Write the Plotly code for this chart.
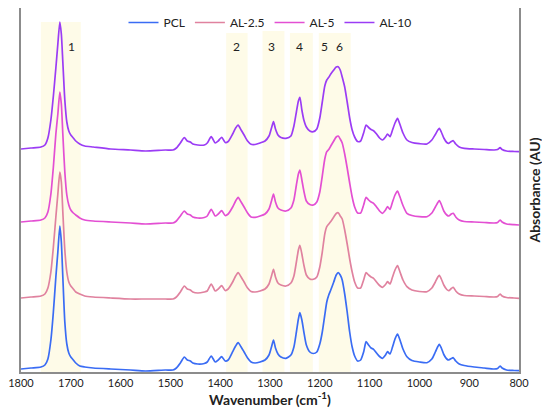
import plotly.graph_objects as go

# Wavenumber grid (cm-1)
wavenumber = [1800, 1780, 1760, 1752, 1746, 1740, 1735, 1730, 1726, 1722, 1719, 1716, 1712, 1708, 1704,
              1700, 1695, 1690, 1682, 1672, 1655, 1620, 1580, 1550, 1510, 1495, 1488, 1480, 1472, 1466,
              1460, 1455, 1445, 1432, 1426, 1418, 1410, 1404, 1397, 1390, 1384, 1375, 1369, 1364, 1358,
              1352, 1345, 1338, 1330, 1320, 1310, 1302, 1297, 1293, 1289, 1284, 1278, 1268, 1258, 1252,
              1247, 1243, 1240, 1236, 1232, 1227, 1220, 1213, 1206, 1200, 1195, 1190, 1186, 1182, 1178,
              1172, 1167, 1163, 1159, 1155, 1150, 1145, 1140, 1135, 1130, 1124, 1118, 1112, 1107, 1102,
              1097, 1092, 1086, 1080, 1074, 1068, 1064, 1059, 1054, 1049, 1044, 1039, 1033, 1025, 1015,
              1000, 985, 975, 968, 963, 960, 956, 951, 945, 941, 936, 932, 927, 920, 910,
              890, 870, 850, 843, 838, 834, 825, 810, 800]

pcl = [3, 4, 5, 7, 13, 32, 60, 95, 120, 146, 130, 95, 50, 28, 19,
       15, 12, 9, 6, 5, 4, 3, 2, 1, 2, 2, 4, 9, 15, 12,
       11, 9, 8, 8.5, 10, 16, 10, 12, 15.3, 11, 12, 20.3, 26, 29.3, 25,
       20, 14, 10, 9, 10, 12, 17, 25, 32, 24, 18, 15, 13.7, 17, 25,
       40, 53, 59.3, 52, 40, 27, 20, 18.5, 20, 28, 40, 57, 70, 77, 82,
       90, 97, 99.3, 97, 92, 78, 60, 40, 25, 16, 11, 12, 20, 30.3, 27,
       24, 22.7, 19, 15.5, 13.7, 17, 20.3, 18, 25, 33, 38, 32, 23, 15.3, 11.5,
       10, 9.3, 13, 20, 25.5, 27.7, 24, 17.5, 13, 12, 13.5, 14.3, 11, 8, 6.5,
       5, 4, 3, 3.5, 6, 4, 2, 1.5, 1.3]

al_2_5 = [74, 75, 76, 78, 84, 100, 125, 155, 178, 200, 190, 160, 122, 100, 90,
          86, 83, 80, 78, 76, 75, 74, 73, 73, 73, 73, 75, 80, 86, 83,
          82, 80, 79, 80, 81, 88, 81, 83, 86.3, 81.5, 83, 90, 96, 99.3, 95,
          90, 84, 80.5, 80, 81, 83, 88, 96, 102.7, 95, 89, 87, 86, 89, 96,
          110, 122, 126.7, 118, 107, 97, 93, 92.7, 95, 105, 120, 138, 145.3, 148, 150.5,
          155, 158.5, 159.3, 156, 153, 142, 128, 113, 100, 90, 84, 84, 92, 99.3, 97,
          95, 93.7, 90, 86.5, 84.7, 87.5, 90.3, 88, 95, 102, 106.3, 100, 92, 85.3, 82,
          80.5, 80.3, 84, 90, 95, 96.7, 93, 87, 82.5, 81.3, 83.5, 84.7, 81, 78, 76.5,
          76, 75.5, 75, 75.5, 78, 76, 74.5, 74, 73.7]

al_5 = [150, 151, 152, 154, 160, 178, 205, 238, 258, 280, 268, 238, 200, 177, 167,
        162, 159, 157, 154, 152, 151, 150, 149, 148, 149, 149, 151, 156, 161, 158,
        157, 155, 154, 154.5, 156, 162.7, 156, 158, 161.3, 156.5, 158, 165, 171, 174.7, 170,
        165, 159, 155, 154.7, 156, 158, 163, 171, 178, 170, 164, 162, 161, 164, 172,
        187, 198, 202, 192, 181, 171, 167.5, 167, 170, 180, 196, 213, 220.3, 222.5, 226,
        231, 235, 236, 233, 229, 218, 204, 189, 175, 165, 159, 159, 167, 174.7, 172,
        170, 168.7, 165, 161, 158.7, 162, 165.3, 162.7, 170, 177, 181, 175, 166.5, 158.7, 156.5,
        155.3, 155.3, 159, 165, 169.5, 171.3, 167.5, 161, 157, 156, 158, 158.7, 155, 152, 150.5,
        150, 149.5, 149, 149.5, 152, 150, 148, 147.3, 147]

al_10 = [223, 224, 225, 227, 234, 252, 276, 304, 328, 350, 338, 310, 272, 250, 241,
         237, 234, 231, 228, 226, 225, 223, 222, 221, 222, 222, 224, 229, 234.5, 231,
         230, 228, 227, 227, 229, 235.3, 229, 231, 234.7, 229.5, 230.5, 238, 244, 247, 242,
         237, 231, 227.7, 227.5, 229, 231, 236, 244, 250.3, 243, 237, 234.5, 233.7, 236, 246,
         260, 271, 274.7, 262, 252, 245, 241, 240.3, 243, 254, 270, 286, 292, 294.7, 298,
         302, 305, 305.3, 302, 295, 285, 270, 254, 242, 235, 230.5, 231, 239, 247, 244.5,
         242.5, 241.3, 238, 234, 232, 235, 238, 235.3, 242, 249, 253.7, 247.5, 239, 232, 229.5,
         228.3, 228, 232, 237.5, 242, 243.7, 240, 234, 229.5, 228.7, 230.5, 231.3, 228, 225, 223.7,
         223, 222.5, 222, 222.5, 224.3, 222.5, 221, 220.5, 220.3]

series_names = ["PCL", "AL-2.5", "AL-5", "AL-10"]
series_values = [pcl, al_2_5, al_5, al_10]
series_colors = ["#3a6cf4", "#e0829f", "#e34fd3", "#9b3cf5"]

# Highlighted bands (cm-1) and their labels
band_start = [1760, 1388, 1315, 1260, 1202]
band_end = [1680, 1345, 1271, 1214, 1138]
band_top = [350, 339, 341, 339, 339]
label_text = ["1", "2", "3", "4", "5", "6"]
label_pos = [1699, 1368, 1298, 1241, 1190, 1160]
label_y = 326

FONT = "Lato"

fig = go.Figure()

for xs, xe, yt in zip(band_start, band_end, band_top):
    fig.add_shape(type="rect", xref="x", yref="y", x0=xs, x1=xe, y0=0, y1=yt,
                  fillcolor="#fefbe8", line=dict(width=0), layer="below")

for name, vals, col in zip(series_names, series_values, series_colors):
    fig.add_trace(go.Scatter(x=wavenumber, y=vals, mode="lines", name=name,
                             line=dict(color=col, width=1.7, shape="spline", smoothing=0.6)))

for t, p in zip(label_text, label_pos):
    fig.add_annotation(x=p, y=label_y, xref="x", yref="y", text=t, showarrow=False,
                       font=dict(size=12, color="#222222", family=FONT))

fig.update_layout(
    width=542, height=409,
    margin=dict(l=13, r=31, t=0, b=45, autoexpand=False),
    paper_bgcolor="white", plot_bgcolor="white",
    font=dict(family=FONT, color="#222222"),
    showlegend=True,
    legend=dict(orientation="h", x=0.5, xanchor="center", y=1.0, yanchor="top",
                bgcolor="rgba(0,0,0,0)", font=dict(size=12, color="#222222", family=FONT),
                itemwidth=30, tracegroupgap=0),
    xaxis=dict(range=[1800, 800], tickmode="array",
               tickvals=[1800, 1700, 1600, 1500, 1400, 1300, 1200, 1100, 1000, 900, 800],
               ticks="", showgrid=False, zeroline=False, ticklabeloverflow="allow",
               showline=True, linecolor="#8c8c8c", linewidth=1.5, mirror=True,
               tickfont=dict(size=11, color="#222222"),
               title=dict(text="<b>Wavenumber (cm<sup>-1</sup>)</b>", font=dict(size=14), standoff=4)),
    yaxis=dict(range=[0, 364], side="right", showticklabels=False, ticks="",
               showgrid=False, zeroline=False,
               showline=True, linecolor="#8c8c8c", linewidth=1.5, mirror=True,
               title=dict(text="<b>Absorbance (AU)</b>", font=dict(size=14), standoff=10)),
)

fig.write_html("out.html")
